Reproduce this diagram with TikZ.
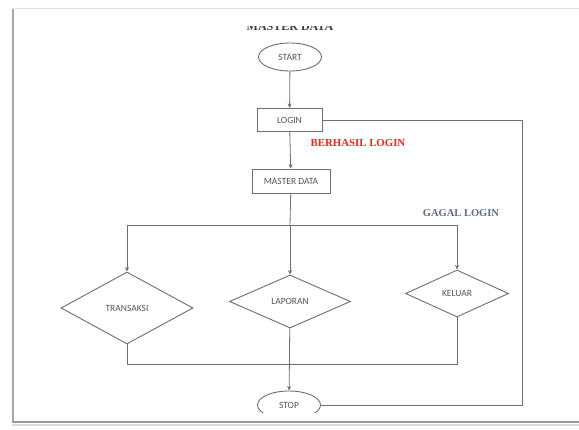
\documentclass[tikz,border=0pt]{standalone}
\usepackage{fontspec}
\setmainfont{Carlito}
\newfontfamily\serifbold{Liberation Serif}
\usepackage{xcolor}
\definecolor{flowLine}{HTML}{6E6E6E}
\definecolor{flowText}{HTML}{555555}
\definecolor{okRed}{HTML}{FF1F1F}
\definecolor{failSlate}{HTML}{5A6B8C}
\usetikzlibrary{positioning,arrows.meta,shapes.geometric}

\tikzset{
  flowbox/.style={draw=flowLine, line width=0.9pt, rectangle, inner sep=0pt, text=flowText},
  terminal/.style={draw=flowLine, line width=0.9pt, ellipse, inner sep=0pt, text=flowText, minimum width=63, minimum height=28},
  choice/.style={draw=flowLine, line width=0.9pt, diamond, inner sep=0pt, text=flowText},
  arr/.style={-{Stealth[length=4.5pt,width=4pt]}, draw=flowLine, line width=0.8pt},
  flow/.style={draw=flowLine, line width=0.8pt}
}

\begin{document}
\begin{tikzpicture}[x=1pt, y=-1pt, font=\fontsize{9.5}{11}\selectfont]
\useasboundingbox (0,0) rectangle (579,430);
% page frame with shadow
\fill[white] (12,9) rectangle (579,422);
\draw[black!12, line width=1pt] (12,9) -- (579,9);
\draw[black!35, line width=2pt] (13,9) -- (13,421);
\draw[black!40, line width=2.5pt] (12,422) -- (579,422);
\draw[black!15, line width=2pt] (12,425) -- (579,425);

\begin{scope}
\clip (15,26.5) rectangle (579,413);
% title, cut at the top
\node[font=\serifbold\bfseries\fontsize{12}{13}\selectfont, text=black!75, anchor=base] (title) at (290,31) {MASTER DATA};
% main column
\node[terminal] (start) at (290,57) {START};
\node[flowbox, minimum width=65, minimum height=23] (login) at (289.5,120) {LOGIN};
\node[flowbox, minimum width=78, minimum height=24] (master) at (291,181) {MASTER DATA};
\node[font=\serifbold\bfseries\fontsize{10.8}{12}\selectfont, text=okRed] (ok) at (358,143) {BERHASIL LOGIN};
\node[font=\serifbold\bfseries\fontsize{10.5}{12}\selectfont, text=failSlate] (fail) at (461,213) {GAGAL LOGIN};
% menu choices
\node[choice, minimum width=132, minimum height=72] (trans) at (127,308) {TRANSAKSI};
\node[choice, minimum width=121, minimum height=53] (lap) at (290,301.5) {LAPORAN};
\node[choice, minimum width=103, minimum height=47] (kel) at (457,293.5) {KELUAR};
\node[terminal] (stop) at (289,405) {STOP};
% junction points
\coordinate (split) at (290,225);
\coordinate (tsplit) at (127,225);
\coordinate (ksplit) at (457,225);
\coordinate (tjoin) at (127,364);
\coordinate (kjoin) at (457,364);
\coordinate (rtop) at (522,120);
\coordinate (rbot) at (522,405);

\draw[arr] (start) -- (login);
\draw[arr] (login) -- (master);
\draw[flow] (master) -- (split);
\draw[flow] (tsplit) -- (ksplit);
\draw[arr] (tsplit) -- (trans);
\draw[arr] (split) -- (lap);
\draw[arr] (ksplit) -- (kel);
% back to stop
\draw[flow] (trans) -- (tjoin) -- (kjoin) -- (kel);
\draw[arr] (lap) -- (stop);
\draw[flow] (login) -- (rtop) -- (rbot) -- (stop);
\end{scope}
\end{tikzpicture}
\end{document}
